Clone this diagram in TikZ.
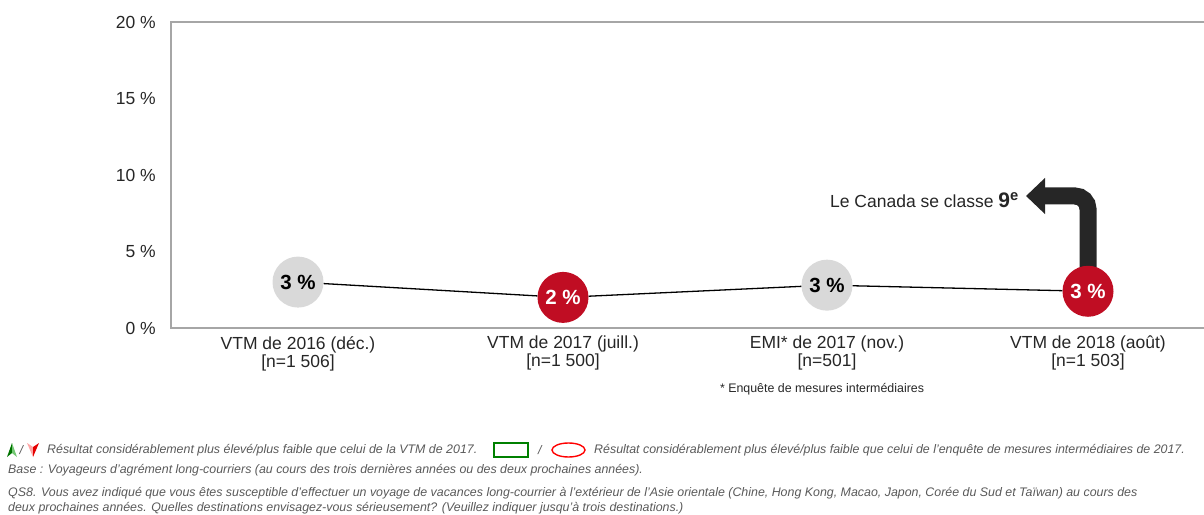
\documentclass[tikz,border=0pt]{standalone}
\usepackage{fontspec}
\setmainfont{Liberation Sans}
\usepackage{tikz}
\usetikzlibrary{arrows.meta, backgrounds}
\definecolor{ptgray}{HTML}{D9D9D9}
\definecolor{ptred}{HTML}{C00D23}
\definecolor{axisgray}{HTML}{A6A6A6}
\definecolor{txtdark}{HTML}{262626}
\definecolor{notegray}{HTML}{595959}
\definecolor{arrowblk}{HTML}{262626}
\newcommand{\labfont}{\fontsize{17.5}{18}\selectfont}
\newcommand{\dotfont}{\fontsize{20.5}{22}\selectfont\bfseries}
\newcommand{\notefont}{\fontsize{12.4}{14}\selectfont\itshape}

\begin{document}
\begin{tikzpicture}[x=1pt, y=1pt, font=\labfont, text=txtdark,
    axisline/.style={draw=axisgray, line width=1.3pt},
    dot/.style={circle, minimum size=51pt, inner sep=0pt, font=\dotfont},
    graydot/.style={dot, fill=ptgray, text=black},
    reddot/.style={dot, fill=ptred, text=white},
    catlabel/.style={align=center, anchor=north, inner sep=0pt},
    note/.style={anchor=west, inner sep=0pt, font=\notefont, text=notegray},
    rankarrow/.style={draw=arrowblk, line width=17pt, rounded corners=13pt,
      -{Triangle[length=19pt, width=35pt]}}]
  \useasboundingbox (0,0) rectangle (1204,514);
  % ============ chart area ============
  \begin{scope}[shift={(0,186)}, y=15.3pt]
    \draw[axisline] (1204,20) -- (171,20) -- (171,0) -- (1204,0);
    \foreach \v in {0,5,...,20}
      \node[anchor=east, inner sep=0pt] (tick\v) at (156,\v) {\v~\%};
    \node[graydot] (p1) at (298,3) {3~\%};
    \node[reddot]  (p2) at (563,2) {2~\%};
    \node[graydot] (p3) at (827,2.8) {3~\%};
    \node[reddot]  (p4) at (1088,2.4) {3~\%};
    \draw[line width=1.3pt] (p1) -- (p2) -- (p3) -- (p4);
  \end{scope}
  % ============ categories ============
  \node[catlabel] (c1) at (298,178) {VTM de 2016 (déc.)\\{}[n=1~506]};
  \node[catlabel] (c2) at (563,178) {VTM de 2017 (juill.)\\{}[n=1~500]};
  \node[catlabel] (c3) at (827,178) {EMI* de 2017 (nov.)\\{}[n=501]};
  \node[catlabel] (c4) at (1088,178) {VTM de 2018 (août)\\{}[n=1~503]};
  \node[font=\fontsize{12.4}{14}\selectfont, inner sep=0pt] (star) at (822,125)
    {* Enquête de mesures intermédiaires};
  % ============ rank callout ============
  \node[anchor=east, inner sep=0pt] (rank) at (1019,314)
    {Le Canada se classe {\fontsize{21}{22}\selectfont\bfseries 9\textsuperscript{e}}};
  \coordinate (tip) at (1026,318);
  \begin{scope}[on background layer]
    \draw[rankarrow] (p4.center) |- (tip);
  \end{scope}
  % ============ notes ============
  \fill[green!45!black] (12,71) -- (7,57) -- (12,61) -- cycle;
  \fill[green!60!black!55] (12,71) -- (17,57) -- (12,61) -- cycle;
  \node[note] (sl1) at (19.5,64) {/};
  \fill[red!35] (33,57) -- (27,71) -- (33,67) -- cycle;
  \fill[red!90!black] (33,57) -- (39,71) -- (33,67) -- cycle;
  \node[note] (n1) at (47,64)
    {Résultat considérablement plus élevé/plus faible que celui de la VTM de 2017.};
  \draw[green!50!black, line width=1.4pt] (494,57) rectangle (528,71);
  \node[note] (sl2) at (538,64) {/};
  \draw[red, line width=1.4pt] (568.5,64) ellipse (16.5 and 7);
  \node[note] (n2) at (594,64)
    {Résultat considérablement plus élevé/plus faible que celui de l’enquête de mesures intermédiaires de 2017.};
  \node[note] (n3) at (8,44)
    {Base : Voyageurs d’agrément long-courriers (au cours des trois dernières années ou des deux prochaines années).};
  \node[note] (n4) at (8,21)
    {QS8. Vous avez indiqué que vous êtes susceptible d’effectuer un voyage de vacances long-courrier à l’extérieur de l’Asie orientale (Chine, Hong Kong, Macao, Japon, Corée du Sud et Taïwan) au cours des};
  \node[note] (n5) at (8,6)
    {deux prochaines années. Quelles destinations envisagez-vous sérieusement? (Veuillez indiquer jusqu’à trois destinations.)};
\end{tikzpicture}
\end{document}
